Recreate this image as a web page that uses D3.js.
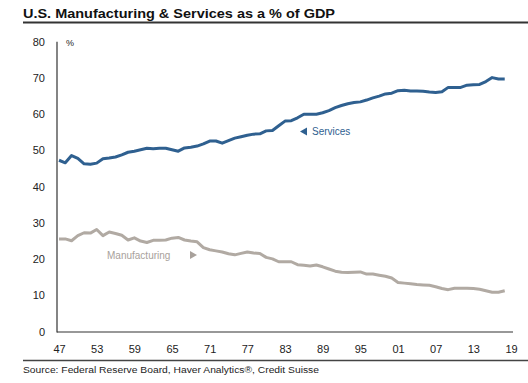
<!DOCTYPE html>
<html><head><meta charset="utf-8">
<script src="https://cdn.jsdelivr.net/npm/d3@7"></script>
<style>
body{margin:0;background:#fff;}
svg{display:block;font-family:"Liberation Sans",Arial,sans-serif;}
</style></head>
<body><svg id="c" width="528" height="383"></svg>
<script>
const years = d3.range(1947, 2019);
const services = [47.3,46.6,48.6,47.8,46.3,46.2,46.5,47.7,47.9,48.2,48.8,49.5,49.8,50.2,50.6,50.5,50.6,50.6,50.2,49.8,50.7,50.9,51.2,51.8,52.6,52.6,52.0,52.7,53.4,53.8,54.2,54.5,54.6,55.4,55.5,56.8,58.1,58.2,59.0,60.0,60.0,60.0,60.4,61.0,61.8,62.4,62.9,63.2,63.4,63.9,64.5,65.0,65.6,65.8,66.5,66.6,66.4,66.4,66.3,66.1,66.0,66.2,67.4,67.4,67.4,68.0,68.1,68.2,69.0,70.1,69.7,69.7];
const manufacturing = [25.6,25.6,25.1,26.5,27.3,27.2,28.2,26.5,27.5,27.1,26.6,25.3,25.9,25.0,24.6,25.2,25.2,25.3,25.8,26.0,25.3,25.0,24.8,23.2,22.6,22.3,22.0,21.5,21.2,21.6,22.0,21.7,21.6,20.5,20.1,19.3,19.3,19.3,18.5,18.3,18.1,18.4,17.9,17.3,16.7,16.4,16.3,16.4,16.5,15.9,15.9,15.6,15.3,14.8,13.6,13.4,13.2,13.0,12.9,12.8,12.4,11.9,11.6,12.0,12.0,12.0,11.9,11.7,11.3,10.9,10.9,11.3];
const xTicks = [1947,1953,1959,1965,1971,1977,1983,1989,1995,2001,2007,2013,2019];
const yTicks = [0,10,20,30,40,50,60,70,80];
const title = "U.S. Manufacturing & Services as a % of GDP";
const source = "Source: Federal Reserve Board, Haver Analytics®, Credit Suisse";

const svg = d3.select("#c");
const x = d3.scaleLinear().domain([1947, 2019]).range([59, 511]);
const y = d3.scaleLinear().domain([0, 80]).range([331.7, 41.7]);

// title
svg.append("text").attr("x", 23).attr("y", 18).attr("font-size", 13).attr("font-weight", "bold")
  .attr("fill", "#111").attr("textLength", 312).attr("lengthAdjust", "spacingAndGlyphs").text(title);
svg.append("line").attr("x1", 23).attr("x2", 528).attr("y1", 22.5).attr("y2", 22.5)
  .attr("stroke", "#333").attr("stroke-width", 2);

// axes
const gy = svg.append("g").attr("transform", "translate(57,0)")
  .call(d3.axisLeft(y).tickValues(yTicks).tickSize(0).tickPadding(12).tickFormat(d3.format("d")));
gy.select(".domain").remove();
gy.selectAll("text").attr("font-size", 11).attr("fill", "#222").attr("font-family", "Liberation Sans, Arial, sans-serif");

const gx = svg.append("g").attr("transform", "translate(0,332)")
  .call(d3.axisBottom(x).tickValues(xTicks).tickSize(0).tickPadding(13).tickFormat(d => String(d % 100).padStart(2, "0")));
gx.select(".domain").remove();
gx.selectAll("text").attr("font-size", 11).attr("fill", "#222").attr("font-family", "Liberation Sans, Arial, sans-serif");

svg.append("line").attr("x1", 57).attr("x2", 57).attr("y1", y(80)).attr("y2", 332.5).attr("stroke", "#333").attr("stroke-width", 1.2);
svg.append("line").attr("x1", 57).attr("x2", 513).attr("y1", 332).attr("y2", 332).attr("stroke", "#333").attr("stroke-width", 1.2);
svg.append("text").attr("x", 66).attr("y", 46).attr("font-size", 9).attr("fill", "#222").text("%");

// lines
const line = d3.line().x((d, i) => x(years[i])).y(d => y(d));
svg.append("path").datum(manufacturing).attr("d", line).attr("fill", "none")
  .attr("stroke", "#b1aaa3").attr("stroke-width", 3).attr("stroke-linejoin", "round");
svg.append("path").datum(services).attr("d", line).attr("fill", "none")
  .attr("stroke", "#2f6090").attr("stroke-width", 3).attr("stroke-linejoin", "round");

// labels
svg.append("path").attr("d", "M300,131.5 L307,127.5 L307,135.5 Z").attr("fill", "#2f6090");
svg.append("text").attr("x", 312).attr("y", 135).attr("font-size", 10).attr("fill", "#2f6090").text("Services");
svg.append("text").attr("x", 107).attr("y", 259).attr("font-size", 10).attr("fill", "#a8a19b").text("Manufacturing");
svg.append("path").attr("d", "M197,255 L190,251 L190,259 Z").attr("fill", "#a8a19b");

// source
svg.append("line").attr("x1", 23).attr("x2", 528).attr("y1", 360.5).attr("y2", 360.5)
  .attr("stroke", "#444").attr("stroke-width", 1.5);
svg.append("text").attr("x", 23).attr("y", 373).attr("font-size", 8.5).attr("fill", "#222")
  .attr("textLength", 296).attr("lengthAdjust", "spacingAndGlyphs").text(source);
</script></body></html>
